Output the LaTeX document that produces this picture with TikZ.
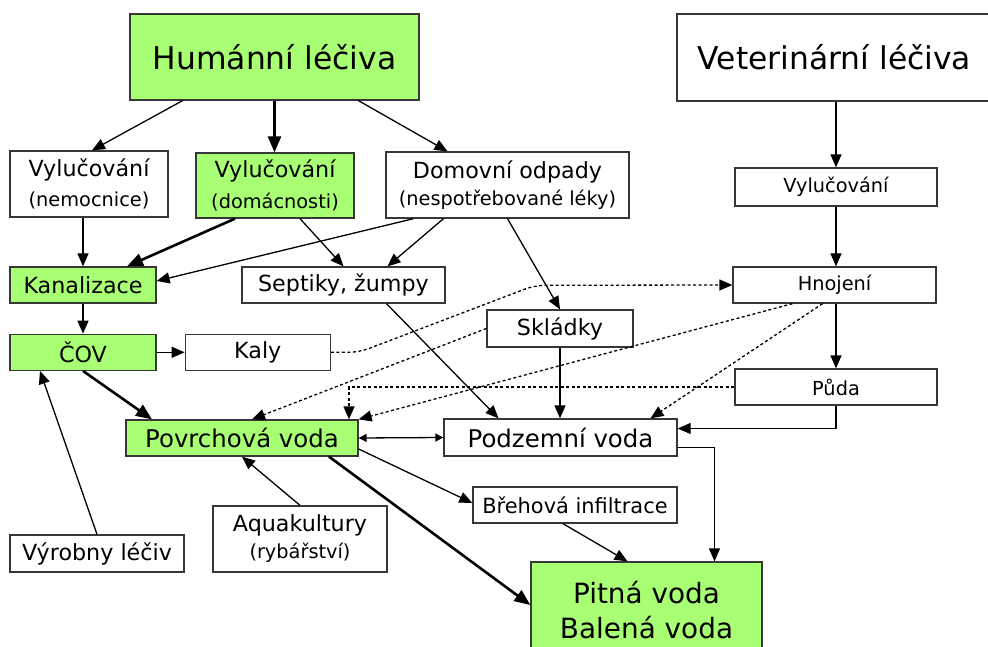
\documentclass[tikz,border=0pt]{standalone}
\usepackage{fontspec}
\setmainfont{DejaVu Sans}
\usetikzlibrary{positioning}
\usetikzlibrary{arrows.meta}
\definecolor{leafgreen}{RGB}{168,255,115}
\definecolor{frame}{RGB}{55,55,55}
\newcommand{\fbig}{\fontsize{31.5}{38}\selectfont}
\newcommand{\fmid}{\fontsize{22.3}{26}\selectfont}
\newcommand{\fsub}{\fontsize{19.4}{24}\selectfont}
\newcommand{\fwater}{\fontsize{24.5}{28}\selectfont}
\newcommand{\fdrink}{\fontsize{28}{40}\selectfont}

\begin{document}
\begin{tikzpicture}[x=1bp, y=-1bp,  >={Triangle[length=13bp,width=11bp]},  box/.style={    draw=frame,    line width=1.3bp,    fill=white,    inner sep=0pt,    align=center  },  gbox/.style={    box,    fill=leafgreen  },  arrow/.style={    ->,    line width=1.3bp  },  heavy/.style={    -{Triangle[length=16bp,width=13bp]},    line width=2.6bp  },  dotarrow/.style={    ->,    line width=1.3bp,    dash pattern=on 3bp off 2.5bp  }]
		\path[use as bounding box, clip] (0,0) rectangle (988,647);
		% Nodes
		\node[gbox, font=\fbig, minimum width=289bp, minimum height=86bp] (hum) at (274.5,57) {Humánní léčiva};
		\node[box, font=\fbig, minimum width=315bp, minimum height=87bp] (vet) at (834.5,57.5) {Veterinární léčiva};
		\node[box, minimum width=158bp, minimum height=66bp] (vnem) at (89,184) {\fmid Vylučování\\[10bp]\fsub (nemocnice)};
		\node[gbox, minimum width=158bp, minimum height=65bp] (vdom) at (275,185.5) {\fmid Vylučování\\[10bp]\fsub (domácnosti)};
		\node[box, minimum width=243bp, minimum height=66bp] (domov) at (507.5,185) {\fmid Domovní odpady\\[6bp]\fsub (nespotřebované léky)};
		\node[box, font=\fsub, minimum width=202bp, minimum height=38bp] (vvet) at (836,187) {Vylučování};
		\node[gbox, font=\fmid, minimum width=146bp, minimum height=36bp] (kan) at (83,285) {Kanalizace};
		\node[box, font=\fmid, minimum width=203bp, minimum height=36bp] (sept) at (343.5,285) {Septiky, žumpy};
		\node[box, font=\fsub, minimum width=203bp, minimum height=36bp] (hnoj) at (834.5,285) {Hnojení};
		\node[gbox, font=\fmid, minimum width=146bp, minimum height=36bp, below=30bp of kan] (cov) {ČOV};
		\node[box, font=\fmid, minimum width=145bp, minimum height=36bp, right=28bp of cov] (kaly) {Kaly};
		\node[box, font=\fmid, minimum width=146bp, minimum height=37bp] (skl) at (560,328.5) {Skládky};
		\node[box, font=\fsub, minimum width=202bp, minimum height=36bp] (puda) at (836,387) {Půda};
		\node[gbox, font=\fwater, minimum width=232bp, minimum height=36bp] (povrch) at (242,438) {Povrchová voda};
		\node[box, font=\fwater, minimum width=233bp, minimum height=37bp] (podz) at (560.5,437.5) {Podzemní voda};
		\node[box, font=\fontsize{21}{24}\selectfont, minimum width=204bp, minimum height=36bp] (breh) at (575,505) {Břehová infiltrace};
		\node[box, minimum width=174bp, minimum height=66bp] (aqua) at (300,539) {\fmid Aquakultury\\[6bp]\fsub (rybářství)};
		\node[box, font=\fmid, minimum width=174bp, minimum height=37bp] (vyr) at (97,553.5) {Výrobny léčiv};
		\node[gbox, font=\fdrink, minimum width=231bp, minimum height=96bp] (pitna) at (646.5,610) {Pitná voda\\[-4bp]Balená voda};
		% Arrows
		\draw[arrow] ([xshift=-92bp]hum.south) -- ([xshift=3bp]vnem.north);
		\draw[heavy] (hum.south) -- (hum.south |- vdom.north);
		\draw[arrow] ([xshift=84bp]hum.south) -- ([xshift=-60bp]domov.north);
		\draw[arrow] (vvet.north |- vet.south) -- (vvet.north);
		\draw[arrow] (vnem.south -| kan.north) -- (kan.north);
		\draw[heavy] ([xshift=-40bp]vdom.south) -- ([xshift=44bp]kan.north);
		\draw[arrow] ([xshift=-94bp]domov.south) -- ([yshift=4bp]kan.east);
		\draw[arrow] ([xshift=25bp]vdom.south) -- (sept.north);
		\draw[arrow] ([xshift=-64bp]domov.south) -- ([xshift=44bp]sept.north);
		\draw[arrow] (domov.south) -- (skl.north);
		\draw[arrow] (kan.south) -- (cov.north);
		\draw[arrow] (cov.east) -- (kaly.west);
		\draw[heavy] (cov.south) -- ([xshift=-90bp]povrch.north);
		\draw[arrow] (vyr.north) -- ([xshift=-43bp]cov.south);
		\draw[arrow] ([xshift=43bp]sept.south) -- ([xshift=-62bp]podz.north);
		\draw[arrow] (skl.south) -- (skl.south |- podz.north);
		\draw[{Triangle[length=8bp,width=8bp]}-{Triangle[length=8bp,width=8bp]}, line width=1.3bp] (povrch.east) -- (podz.west);
		\draw[arrow] ([yshift=-11bp]povrch.east) -- ([yshift=2bp]breh.west);
		\draw[heavy] ([xshift=87bp]povrch.south) -- ([yshift=5bp]pitna.west);
		\draw[arrow] (aqua.north) -- (povrch.south);
		\draw[arrow] ([xshift=-12bp]breh.south) -- ([xshift=-19bp]pitna.north);
		\draw[arrow] ([yshift=-10bp]podz.east) -| ([xshift=68bp]pitna.north);
		\draw[arrow] (vvet.south) -- (vvet.south |- hnoj.north);
		\draw[arrow] (hnoj.south -| puda.north) -- (puda.north);
		\draw[arrow] (puda.south) |- ([yshift=9bp]podz.east);
		% Dotted links
		\draw[dotarrow, rounded corners=10bp] (kaly.east) -- ++(28,0) -- ++(176,-67) -- (hnoj.west);
		\draw[dotarrow] (skl.west) -- ([xshift=10bp]povrch.north);
		\draw[dotarrow] ([xshift=-42bp]hnoj.south) -- (povrch.north east);
		\draw[dotarrow] ([xshift=-12bp]hnoj.south) -- ([xshift=90bp]podz.north);
		\draw[dotarrow] (puda.west) -| ([xshift=107bp]povrch.north);
	\end{tikzpicture}
\end{document}
